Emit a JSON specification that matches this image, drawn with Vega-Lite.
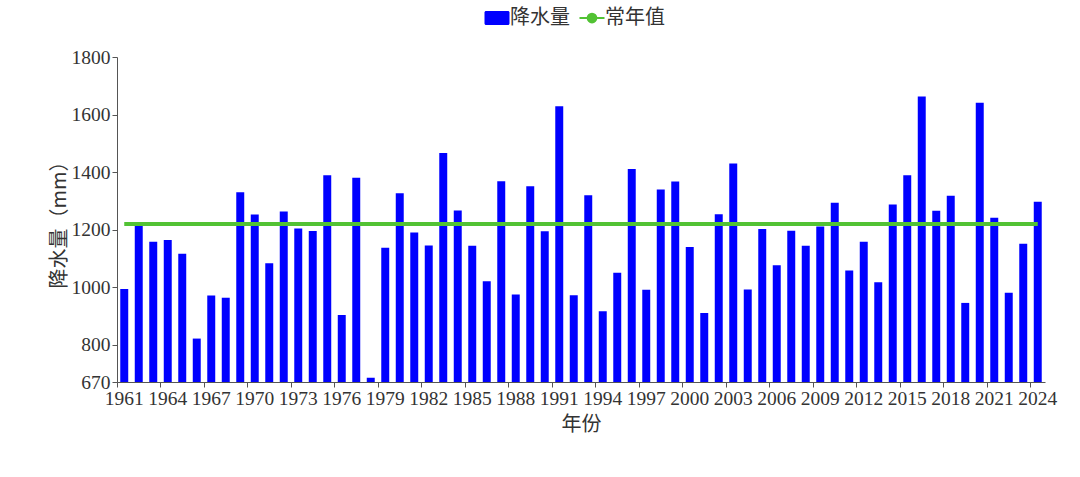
{
  "$schema": "https://vega.github.io/schema/vega-lite/v6.json",
  "width": 928,
  "height": 325,
  "autosize": {"type": "none"},
  "padding": {"left": 117, "top": 57, "right": 35, "bottom": 95},
  "background": "white",
  "config": {
    "view": {"stroke": null},
    "axis": {"domainColor": "#555", "tickColor": "#555", "labelColor": "#333", "titleColor": "#333", "labelFont": "Liberation Serif", "labelFontSize": 19.5, "titleFont": "Noto Sans CJK SC", "titleFontSize": 20, "titleFontWeight": "normal", "grid": false, "tickSize": 5}
  },
  "data": {
    "values": [
      {"year": 1961, "precip": 993, "normal": 1219},
      {"year": 1962, "precip": 1213, "normal": 1219},
      {"year": 1963, "precip": 1158, "normal": 1219},
      {"year": 1964, "precip": 1164, "normal": 1219},
      {"year": 1965, "precip": 1116, "normal": 1219},
      {"year": 1966, "precip": 821, "normal": 1219},
      {"year": 1967, "precip": 971, "normal": 1219},
      {"year": 1968, "precip": 963, "normal": 1219},
      {"year": 1969, "precip": 1330, "normal": 1219},
      {"year": 1970, "precip": 1252, "normal": 1219},
      {"year": 1971, "precip": 1083, "normal": 1219},
      {"year": 1972, "precip": 1263, "normal": 1219},
      {"year": 1973, "precip": 1204, "normal": 1219},
      {"year": 1974, "precip": 1195, "normal": 1219},
      {"year": 1975, "precip": 1389, "normal": 1219},
      {"year": 1976, "precip": 903, "normal": 1219},
      {"year": 1977, "precip": 1380, "normal": 1219},
      {"year": 1978, "precip": 685, "normal": 1219},
      {"year": 1979, "precip": 1137, "normal": 1219},
      {"year": 1980, "precip": 1326, "normal": 1219},
      {"year": 1981, "precip": 1190, "normal": 1219},
      {"year": 1982, "precip": 1145, "normal": 1219},
      {"year": 1983, "precip": 1466, "normal": 1219},
      {"year": 1984, "precip": 1266, "normal": 1219},
      {"year": 1985, "precip": 1144, "normal": 1219},
      {"year": 1986, "precip": 1020, "normal": 1219},
      {"year": 1987, "precip": 1368, "normal": 1219},
      {"year": 1988, "precip": 974, "normal": 1219},
      {"year": 1989, "precip": 1351, "normal": 1219},
      {"year": 1990, "precip": 1194, "normal": 1219},
      {"year": 1991, "precip": 1629, "normal": 1219},
      {"year": 1992, "precip": 972, "normal": 1219},
      {"year": 1993, "precip": 1319, "normal": 1219},
      {"year": 1994, "precip": 916, "normal": 1219},
      {"year": 1995, "precip": 1050, "normal": 1219},
      {"year": 1996, "precip": 1411, "normal": 1219},
      {"year": 1997, "precip": 991, "normal": 1219},
      {"year": 1998, "precip": 1339, "normal": 1219},
      {"year": 1999, "precip": 1367, "normal": 1219},
      {"year": 2000, "precip": 1139, "normal": 1219},
      {"year": 2001, "precip": 910, "normal": 1219},
      {"year": 2002, "precip": 1253, "normal": 1219},
      {"year": 2003, "precip": 1430, "normal": 1219},
      {"year": 2004, "precip": 992, "normal": 1219},
      {"year": 2005, "precip": 1202, "normal": 1219},
      {"year": 2006, "precip": 1076, "normal": 1219},
      {"year": 2007, "precip": 1196, "normal": 1219},
      {"year": 2008, "precip": 1144, "normal": 1219},
      {"year": 2009, "precip": 1211, "normal": 1219},
      {"year": 2010, "precip": 1293, "normal": 1219},
      {"year": 2011, "precip": 1058, "normal": 1219},
      {"year": 2012, "precip": 1158, "normal": 1219},
      {"year": 2013, "precip": 1017, "normal": 1219},
      {"year": 2014, "precip": 1287, "normal": 1219},
      {"year": 2015, "precip": 1389, "normal": 1219},
      {"year": 2016, "precip": 1663, "normal": 1219},
      {"year": 2017, "precip": 1265, "normal": 1219},
      {"year": 2018, "precip": 1318, "normal": 1219},
      {"year": 2019, "precip": 945, "normal": 1219},
      {"year": 2020, "precip": 1641, "normal": 1219},
      {"year": 2021, "precip": 1241, "normal": 1219},
      {"year": 2022, "precip": 980, "normal": 1219},
      {"year": 2023, "precip": 1151, "normal": 1219},
      {"year": 2024, "precip": 1297, "normal": 1219}
    ]
  },
  "encoding": {
    "x": {
      "field": "year",
      "type": "ordinal",
      "scale": {"paddingInner": 0, "paddingOuter": 0},
      "axis": {
        "title": "年份",
        "labelAngle": 0,
        "values": [1961, 1964, 1967, 1970, 1973, 1976, 1979, 1982, 1985, 1988, 1991, 1994, 1997, 2000, 2003, 2006, 2009, 2012, 2015, 2018, 2021, 2024],
        "labelOverlap": false,
        "labelFlush": false,
        "bandPosition": 0,
        "labelPadding": 2,
        "titlePadding": 7
      }
    }
  },
  "layer": [
    {
      "mark": {"type": "bar", "width": {"band": 0.55}},
      "encoding": {
        "y": {
          "field": "precip",
          "type": "quantitative",
          "scale": {"domain": [670, 1800], "zero": false, "nice": false},
          "axis": {"title": "降水量（mm）", "format": "d", "values": [670, 800, 1000, 1200, 1400, 1600, 1800], "labelPadding": 2, "titlePadding": 2}
        },
        "y2": {"datum": 670},
        "color": {
          "datum": "降水量",
          "type": "nominal",
          "scale": {"domain": ["降水量", "常年值"], "range": ["#0000ff", "#52c234"]},
          "legend": {
            "title": null,
            "orient": "none",
            "direction": "horizontal",
            "legendX": 370,
            "legendY": -49,
            "columnPadding": 5,
            "symbolSize": 625,
            "labelOffset": 3,
            "labelFont": "Noto Sans CJK SC",
            "labelFontSize": 20,
            "labelColor": "#333",
            "labelLimit": 200,
            "encode": {
              "symbols": {
                "update": {
                  "shape": {"signal": "datum.value === '降水量' ? 'M-0.88,-0.56H0.88A0.12,0.12 0 0 1 1,-0.44V0.44A0.12,0.12 0 0 1 0.88,0.56H-0.88A0.12,0.12 0 0 1 -1,0.44V-0.44A0.12,0.12 0 0 1 -0.88,-0.56Z' : 'M-1,0H-0.35M0.35,0H1M-0.35,0A0.35,0.35 0 1,1 0.35,0A0.35,0.35 0 1,1 -0.35,0Z'"},
                  "fill": {"signal": "scale('color', datum.value)"},
                  "stroke": {"signal": "scale('color', datum.value)"},
                  "strokeWidth": {"signal": "datum.value === '降水量' ? 0 : 2"},
                  "fillOpacity": {"value": 1},
                  "strokeOpacity": {"value": 1},
                  "opacity": {"value": 1}
                }
              }
            }
          }
        }
      }
    },
    {
      "mark": {"type": "line", "strokeWidth": 4},
      "encoding": {
        "y": {"field": "normal", "type": "quantitative"},
        "color": {"datum": "常年值", "type": "nominal"}
      }
    }
  ]
}
